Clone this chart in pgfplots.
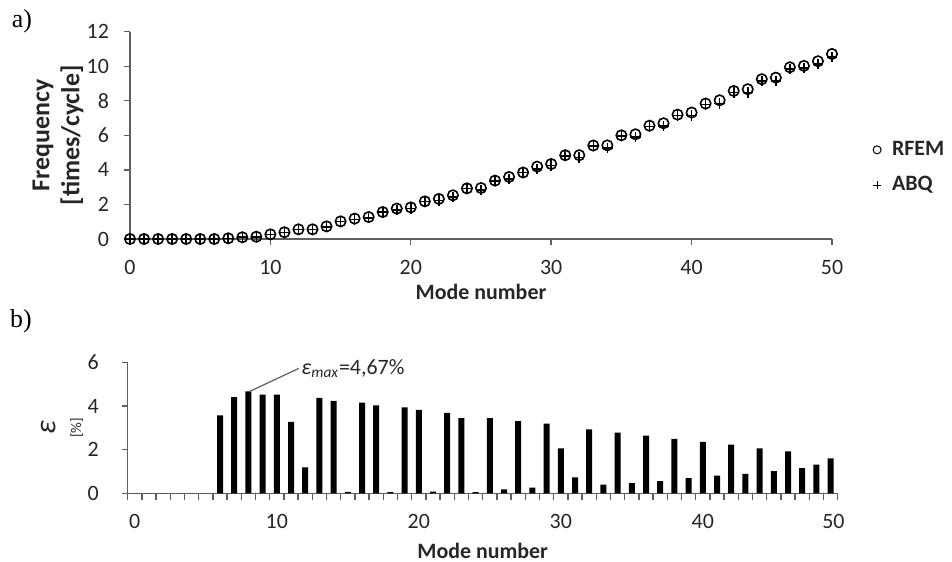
\documentclass[border=0pt]{standalone}
\usepackage{fontspec}
\setmainfont{Carlito}
\newfontfamily\seriffont{Liberation Serif}
\usepackage{pgfplots}
\pgfplotsset{compat=1.18}

\definecolor{axisgray}{RGB}{95,95,95}

\pgfplotsset{
  common/.style={
    scale only axis,
    anchor=south west,
    axis lines*=left,
    tick align=outside,
    major tick length=3bp,
    minor tick length=3.5bp,
    axis line style={axisgray, line width=0.7bp},
    tick style={axisgray, line width=0.7bp},
    tick label style={font=\fontsize{11}{13}\selectfont, text=black!85},
    label style={font=\fontsize{11}{13}\selectfont\bfseries, text=black!85},
    /pgf/number format/assume math mode=true,
    clip=false,
  },
  small legend mark/.style={
    legend image code/.code={
      \draw[##1, mark size=2bp, mark options={line width=0.5bp}] plot coordinates {(0cm,0cm)};
      \path[draw=none, fill=none] (-2bp,0bp) -- (5.5bp,0bp);}
  },
}

\begin{document}
\begin{tikzpicture}
\path[use as bounding box] (0bp,0bp) rectangle (476bp,281bp);

\node[font=\seriffont\fontsize{13}{13}\selectfont] at (11bp,270.5bp) {a)};
\node[font=\seriffont\fontsize{13}{13}\selectfont] at (10.5bp,120.5bp) {b)};

% a) frequencies
\begin{axis}[common,
  at={(65bp,161.5bp)}, width=351bp, height=103.65bp,
  xmin=0, xmax=50, ymin=0, ymax=12,
  xtick={0,10,...,50}, ytick={0,2,...,12},
  xticklabel style={yshift=-4bp},
  yticklabel style={xshift=-4bp},
  xlabel={Mode number},
  xlabel style={at={(axis description cs:0.5,-0.256)}, anchor=center},
  ylabel={Frequency\\{[times/cycle]}},
  ylabel style={at={(axis description cs:-0.1026,0.5)}, anchor=center, align=center,
    font=\fontsize{13}{15}\selectfont\bfseries},
  legend style={at={(axis description cs:1.058,0.345)}, anchor=west, draw=none, fill=none,
    inner sep=0pt, row sep=5bp, font=\fontsize{11}{13}\selectfont\bfseries, text=black!85,
    cells={anchor=west}},
]
\addplot[only marks, mark=o, mark size=2.6bp, mark options={line width=0.8bp, black}, small legend mark]
coordinates {
(0,0) (1,0) (2,0) (3,0) (4,0) (5,0) (6,0) (7,0.04) (8,0.10) (9,0.13)
(10,0.27) (11,0.39) (12,0.56) (13,0.56) (14,0.73) (15,1.02) (16,1.18) (17,1.27) (18,1.56) (19,1.76)
(20,1.83) (21,2.18) (22,2.32) (23,2.53) (24,2.93) (25,2.95) (26,3.38) (27,3.59) (28,3.85) (29,4.19)
(30,4.34) (31,4.85) (32,4.85) (33,5.41) (34,5.42) (35,6.00) (36,6.06) (37,6.56) (38,6.70) (39,7.20)
(40,7.32) (41,7.84) (42,8.03) (43,8.57) (44,8.67) (45,9.25) (46,9.34) (47,9.94) (48,10.02) (49,10.29)
(50,10.71)
};
\addlegendentry{RFEM}
\addplot[only marks, mark=+, mark size=2.6bp, mark options={line width=0.8bp, black}, small legend mark]
coordinates {
(0,0) (1,0) (2,0) (3,0) (4,0) (5,0) (6,0) (7,0.04) (8,0.10) (9,0.12)
(10,0.26) (11,0.38) (12,0.55) (13,0.54) (14,0.70) (15,1.02) (16,1.13) (17,1.22) (18,1.56) (19,1.69)
(20,1.76) (21,2.18) (22,2.23) (23,2.44) (24,2.93) (25,2.85) (26,3.37) (27,3.47) (28,3.84) (29,4.06)
(30,4.25) (31,4.81) (32,4.71) (33,5.39) (34,5.27) (35,5.97) (36,5.90) (37,6.52) (38,6.53) (39,7.15)
(40,7.15) (41,7.78) (42,7.85) (43,8.49) (44,8.49) (45,9.16) (46,9.16) (47,9.83) (48,9.89) (49,10.13)
(50,10.54)
};
\addlegendentry{ABQ}
\end{axis}

% b) relative error
\begin{axis}[common,
  at={(63.85bp,34.35bp)}, width=355bp, height=65.5bp,
  xmin=-0.5, xmax=49.5, ymin=0, ymax=6,
  xtick={0,10,20,30,40,49.2}, xticklabels={0,10,20,30,40,50},
  minor xtick={-0.5,0.5,...,49.5},
  major x tick style={draw=none},
  ytick={0,2,4,6},
  xticklabel style={yshift=-4bp},
  yticklabel style={xshift=-8bp},
  xlabel={Mode number},
  xlabel style={at={(axis description cs:0.5,-0.443)}, anchor=center},
  ylabel={{\fontsize{15}{15}\selectfont\mdseries\itshape ε}\\{\fontsize{7.5}{8}\selectfont\mdseries [\%]}},
  ylabel style={at={(axis description cs:-0.0925,0.5)}, anchor=center, align=center},
]
\addplot[ybar, bar width=3bp, fill=black, draw=none]
coordinates {
(0,0) (1,0) (2,0) (3,0) (4,0) (5,0) (6,3.57) (7,4.41) (8,4.67) (9,4.52)
(10,4.52) (11,3.27) (12,1.19) (13,4.37) (14,4.23) (15,0.06) (16,4.15) (17,4.03) (18,0.05) (19,3.94)
(20,3.82) (21,0.08) (22,3.68) (23,3.44) (24,0.05) (25,3.44) (26,0.18) (27,3.31) (28,0.26) (29,3.19)
(30,2.06) (31,0.73) (32,2.93) (33,0.40) (34,2.78) (35,0.47) (36,2.64) (37,0.56) (38,2.49) (39,0.69)
(40,2.35) (41,0.81) (42,2.23) (43,0.89) (44,2.06) (45,1.02) (46,1.92) (47,1.15) (48,1.31) (49,1.60)
};
\draw[axisgray, line width=0.6bp] (axis cs:8.1,4.67) -- (axis cs:11.55,5.72)
  node[right, inner sep=1bp, black!85, font=\fontsize{11}{13}\selectfont] {{\itshape ε\textsubscript{max}}=4,67\%};
\end{axis}
\end{tikzpicture}
\end{document}
